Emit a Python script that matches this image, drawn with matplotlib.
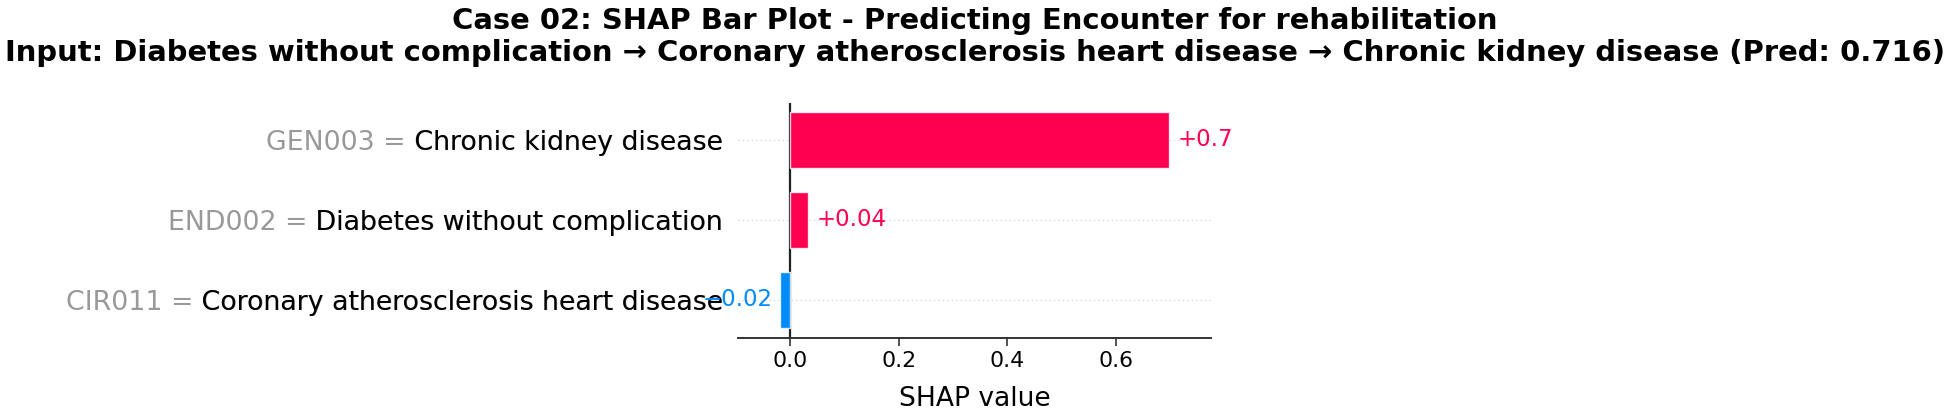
import matplotlib
matplotlib.use("Agg")
import matplotlib.pyplot as plt
import numpy as np

# data (top row first)
codes = ["GEN003", "END002", "CIR011"]
names = ["Chronic kidney disease", "Diabetes without complication",
         "Coronary atherosclerosis heart disease"]
shap_vals = [0.698, 0.033, -0.018]
val_labels = ["+0.7", "+0.04", "\u22120.02"]
xticks = [0.0, 0.2, 0.4, 0.6]

red = "#ff0051"
blue = "#008bfb"

fig = plt.figure(figsize=(19.5, 4.11), dpi=100)
ax = fig.add_axes([0.3785, 0.1776, 0.2425, 0.5718])

y_pos = np.arange(len(names), 0, -1)

# faint row guides and the zero line
for y in y_pos:
    ax.axhline(y, color="#cccccc", lw=0.8, dashes=(1, 3), zorder=-1)
ax.axvline(0, color="#222222", lw=1.6, zorder=1)

colors = [red if v > 0 else blue for v in shap_vals]
ax.barh(y_pos, shap_vals, height=0.7, color=colors,
        edgecolor=(1, 1, 1, 0.8), linewidth=1, zorder=2)

for y, v, lab, c in zip(y_pos, shap_vals, val_labels, colors):
    off = 5.8 if v > 0 else -5.8
    ax.annotate(lab, (v, y), xytext=(off, 0), textcoords="offset points",
                ha="left" if v > 0 else "right", va="center",
                color=c, fontsize=16.5)

# gray "code = name" labels with black names drawn on top (shap style)
full = [f"{c} = {n}" for c, n in zip(codes, names)]
ax.set_yticks(list(y_pos) + list(y_pos + 1e-8))
ax.set_yticklabels(full + [" " + n for n in names], fontsize=19.3)
tl = ax.get_yticklabels()
for i, t in enumerate(tl):
    t.set_color("#999999" if i < len(names) else "#000000")
ax.tick_params(axis="y", length=0, pad=10.8)

ax.set_xlim(-0.096, 0.775)
ax.set_ylim(0.525, 3.46)
ax.set_xticks(xticks)
ax.set_xticklabels([f"{t:.1f}" for t in xticks], fontsize=15.8)
ax.tick_params(axis="x", length=5.5, width=1.2, color="#333333", pad=4)
ax.set_xlabel("SHAP value", fontsize=19.1, labelpad=11)

for s in ["left", "top", "right"]:
    ax.spines[s].set_visible(False)
ax.spines["bottom"].set_color("#333333")
ax.spines["bottom"].set_linewidth(1.4)

title = ("Case 02: SHAP Bar Plot - Predicting Encounter for rehabilitation\n"
         "Input: Diabetes without complication \u2192 Coronary atherosclerosis "
         "heart disease \u2192 Chronic kidney disease (Pred: 0.716)")
fig.text(0.5, 1 - 61 / 411, title, ha="center", va="baseline",
         fontsize=20.9, fontweight="bold", linespacing=1.19)

fig.savefig("out.png", dpi=100)
